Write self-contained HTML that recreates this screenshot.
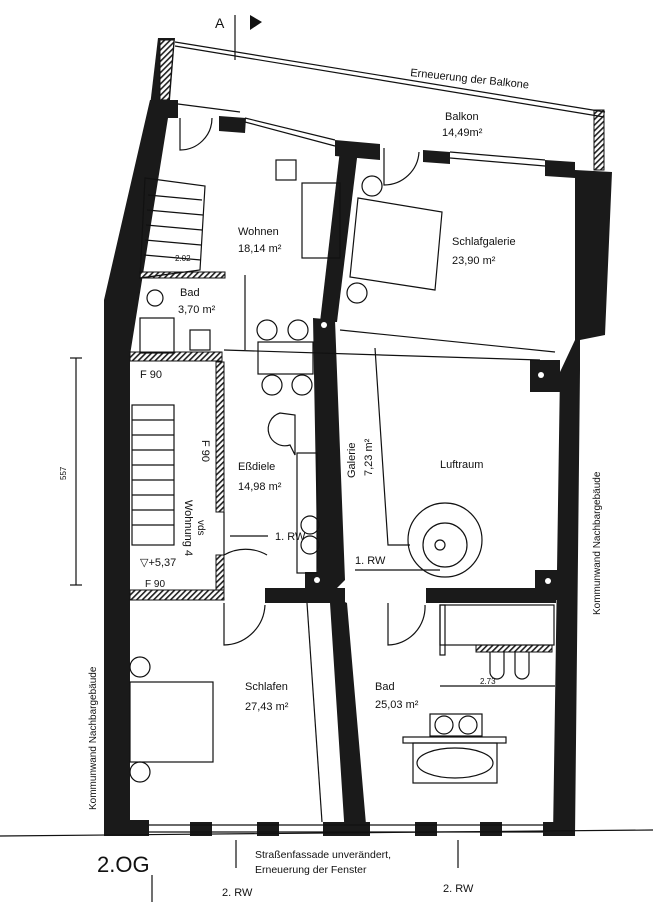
<!DOCTYPE html>
<html><head><meta charset="utf-8"><style>
html,body{margin:0;padding:0;background:#fff;}
svg{display:block;font-family:"Liberation Sans",sans-serif;}
text{fill:#111;}
</style></head><body>
<svg width="653" height="902" viewBox="0 0 653 902" xmlns="http://www.w3.org/2000/svg">
<defs>
<pattern id="h" width="4" height="4" patternUnits="userSpaceOnUse" patternTransform="rotate(45)">
<rect width="4" height="4" fill="#fff"/><rect width="1.6" height="4" fill="#222"/></pattern>
</defs>
<g fill="#1a1a1a" stroke="none">
<polygon points="158,38 175,38 170,100 168,106 150,106"/>
<polygon fill="url(#h)" stroke="#111" points="160,40 174,40 169,100 160,100"/>
<polygon points="150,100 178,100 178,118 168,118 130,355 130,836 104,836 104,300"/>
<rect x="594" y="110" width="10" height="60" fill="url(#h)" stroke="#111"/>
<polygon points="575,170 612,172 605,335 580,340 580,370 575,836 553,836 560,372 575,340"/>
<polygon points="219,116 246,118 245,133 219,131"/>
<polygon points="335,140 380,144 380,160 335,156"/>
<polygon points="423,150 450,152 450,164 423,162"/>
<polygon points="545,160 575,162 575,178 545,176"/>
<polygon points="340,150 358,150 337,322 320,322"/>
<polygon points="313,318 335,320 345,580 330,595 347,603 367,836 345,836 330,603 318,595"/>
<polygon points="305,572 330,572 330,600 305,600"/>
<polygon points="535,570 560,570 560,600 535,600"/>
<polygon points="530,360 560,360 560,392 530,392"/>
<rect x="265" y="588" width="80" height="15"/>
<rect x="426" y="588" width="130" height="15"/>
<rect x="104" y="820" width="45" height="16"/>
<rect x="190" y="822" width="22" height="14"/>
<rect x="257" y="822" width="22" height="14"/>
<rect x="323" y="822" width="47" height="14"/>
<rect x="415" y="822" width="22" height="14"/>
<rect x="480" y="822" width="22" height="14"/>
<rect x="543" y="822" width="32" height="14"/>
</g>
<g fill="#fff">
<circle cx="324" cy="325" r="3"/><circle cx="541" cy="375" r="3"/><circle cx="317" cy="580" r="3"/><circle cx="548" cy="581" r="3"/>
</g>
<rect x="130" y="352" width="92" height="9" fill="url(#h)" stroke="#111"/>
<rect x="216" y="362" width="8" height="150" fill="url(#h)" stroke="#111"/>
<rect x="216" y="555" width="8" height="35" fill="url(#h)" stroke="#111"/>
<rect x="130" y="590" width="94" height="10" fill="url(#h)" stroke="#111"/>
<rect x="140" y="272" width="85" height="6" fill="url(#h)" stroke="#111"/>
<rect x="476" y="645" width="76" height="7" fill="url(#h)" stroke="#111"/>
<g fill="none" stroke="#111" stroke-width="1.2">
<polyline points="175,42 605,112"/><polyline points="175,46 604,117"/>
<line x1="178" y1="104" x2="240" y2="112"/>
<polyline points="245,118 335,140"/><polyline points="245,122 335,146"/>
<polyline points="450,152 545,160"/><polyline points="450,158 545,166"/>
<line x1="235" y1="15" x2="235" y2="60"/>
<path d="M180,118 L180,150 A32,32 0 0 0 212,118"/>
<path d="M384,148 L384,185 A35,35 0 0 0 419,152"/>
<path d="M224,512 L224,555 A43,43 0 0 1 267,555"/>
<path d="M224,603 L224,645 A42,42 0 0 0 265,605"/>
<path d="M388,603 L388,645 A38,38 0 0 0 425,605"/>
<rect x="276" y="160" width="20" height="20"/>
<rect x="302" y="183" width="38" height="75"/>
<polygon points="358,198 442,212 435,290 350,277"/>
<circle cx="372" cy="186" r="10"/><circle cx="357" cy="293" r="10"/>
<circle cx="267" cy="330" r="10"/><circle cx="298" cy="330" r="10"/>
<circle cx="272" cy="385" r="10"/><circle cx="302" cy="385" r="10"/>
<rect x="258" y="342" width="55" height="32"/>
<path d="M280,413 A15,15 0 1 0 290,445 L295,455 L295,415 Z"/>
<rect x="297" y="453" width="20" height="120"/>
<circle cx="310" cy="525" r="9"/><circle cx="310" cy="545" r="9"/>
<line x1="224" y1="350" x2="540" y2="360"/>
<line x1="340" y1="330" x2="555" y2="352"/>
<polyline points="375,348 388,545 410,545"/>
<circle cx="445" cy="540" r="37"/><circle cx="445" cy="545" r="22"/>
<circle cx="440" cy="545" r="5"/>
<polygon points="145,178 205,186 200,270 140,278"/>
<line x1="148" y1="195" x2="202" y2="200"/><line x1="147" y1="210" x2="203" y2="215"/><line x1="146" y1="225" x2="202" y2="230"/><line x1="145" y1="240" x2="201" y2="245"/><line x1="144" y1="255" x2="201" y2="260"/>
<rect x="132" y="405" width="42" height="140"/>
<line x1="132" y1="420" x2="174" y2="420"/><line x1="132" y1="435" x2="174" y2="435"/><line x1="132" y1="450" x2="174" y2="450"/><line x1="132" y1="465" x2="174" y2="465"/><line x1="132" y1="480" x2="174" y2="480"/><line x1="132" y1="495" x2="174" y2="495"/><line x1="132" y1="510" x2="174" y2="510"/><line x1="132" y1="525" x2="174" y2="525"/>
<rect x="140" y="318" width="34" height="35"/><rect x="190" y="330" width="20" height="20"/>
<circle cx="155" cy="298" r="8"/>
<circle cx="140" cy="667" r="10"/><circle cx="140" cy="772" r="10"/>
<rect x="130" y="682" width="83" height="80"/>
<line x1="307" y1="603" x2="322" y2="822"/>
<rect x="430" y="714" width="52" height="22"/>
<circle cx="444" cy="725" r="9"/><circle cx="468" cy="725" r="9"/>
<rect x="403" y="737" width="103" height="6"/>
<rect x="413" y="743" width="84" height="40"/>
<ellipse cx="455" cy="763" rx="38" ry="15"/>
<rect x="440" y="605" width="114" height="40"/>
<path d="M490,652 L490,672 A7,7 0 0 0 504,672 L504,652"/>
<path d="M515,652 L515,672 A7,7 0 0 0 529,672 L529,652"/>
<rect x="440" y="605" width="5" height="50"/>
<line x1="440" y1="686" x2="555" y2="686"/>
<line x1="76" y1="358" x2="76" y2="585"/><line x1="70" y1="358" x2="82" y2="358"/><line x1="70" y1="585" x2="82" y2="585"/>
<line x1="245" y1="275" x2="245" y2="350"/>
<line x1="149" y1="825" x2="543" y2="825"/><line x1="149" y1="832" x2="543" y2="832"/>
<line x1="0" y1="836" x2="653" y2="830"/>
<line x1="152" y1="875" x2="152" y2="902"/>
<line x1="236" y1="840" x2="236" y2="868"/><line x1="458" y1="840" x2="458" y2="868"/>
<line x1="355" y1="570" x2="440" y2="570"/>
<line x1="230" y1="536" x2="268" y2="536"/>
</g>
<polygon points="250,15 262,22 250,30" fill="#111"/>
<g font-size="11">
<text x="215" y="28" font-size="14">A</text>
<text x="410" y="76" transform="rotate(6 410 76)">Erneuerung der Balkone</text>
<text x="445" y="120">Balkon</text><text x="442" y="136">14,49m²</text>
<text x="238" y="235">Wohnen</text><text x="238" y="252">18,14 m²</text>
<text x="452" y="245">Schlafgalerie</text><text x="452" y="264">23,90 m²</text>
<text x="180" y="296">Bad</text><text x="178" y="313">3,70 m²</text>
<text x="140" y="378">F 90</text>
<text x="238" y="470">Eßdiele</text><text x="238" y="490">14,98 m²</text>
<text x="440" y="468">Luftraum</text>
<text x="275" y="540">1. RW</text><text x="355" y="564">1. RW</text>
<text x="140" y="566">▽+5,37</text>
<text x="145" y="587" font-size="10">F 90</text>
<text x="245" y="690">Schlafen</text><text x="245" y="710">27,43 m²</text>
<text x="375" y="690">Bad</text><text x="375" y="708">25,03 m²</text>
<text x="255" y="858" font-size="10.5">Straßenfassade unverändert,</text>
<text x="255" y="873" font-size="10.5">Erneuerung der Fenster</text>
<text x="222" y="896">2. RW</text><text x="443" y="892">2. RW</text>
<text x="97" y="872" font-size="22">2.OG</text>
<text x="0" y="0" transform="translate(355,478) rotate(-90)">Galerie</text>
<text x="0" y="0" transform="translate(372,476) rotate(-90)">7,23 m²</text>
<text x="0" y="0" transform="translate(600,615) rotate(-90)" font-size="10">Kommunwand Nachbargebäude</text>
<text x="0" y="0" transform="translate(96,810) rotate(-90)" font-size="10">Kommunwand Nachbargebäude</text>
<text x="0" y="0" transform="translate(202,440) rotate(90)">F 90</text>
<text x="0" y="0" transform="translate(185,500) rotate(90)">Wohnung 4</text>
<text x="0" y="0" transform="translate(198,520) rotate(90)" font-size="10">vds</text>
<text x="0" y="0" transform="translate(66,480) rotate(-90)" font-size="8">557</text>
<text x="480" y="684" font-size="8">2.73</text>
<text x="175" y="261" font-size="8">2.02</text>
</g>
</svg>
</body></html>
